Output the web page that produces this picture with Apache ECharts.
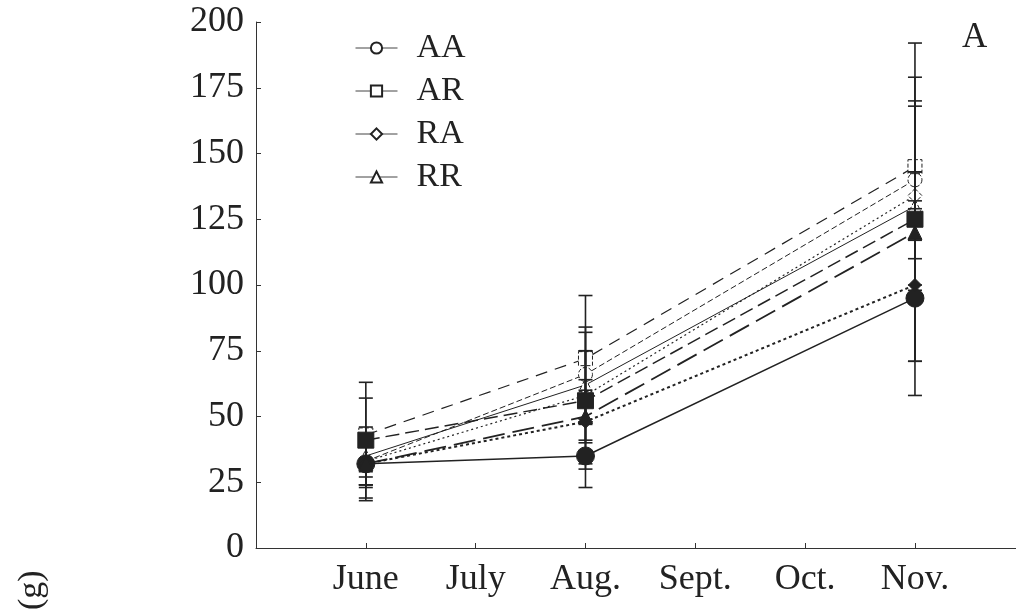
<!DOCTYPE html>
<html>
<head>
<meta charset="utf-8">
<script src="https://cdn.jsdelivr.net/npm/echarts@6/dist/echarts.min.js"></script>
<style>
  html, body { margin: 0; padding: 0; background: #fff; }
  #chart { width: 1016px; height: 611px; }
</style>
</head>
<body>
<div id="chart"></div>
<script>
// month tick labels, sampling months sit at positions 1, 3 and 6
const months = ['June', 'July', 'Aug.', 'Sept.', 'Oct.', 'Nov.']
const sampleX = [1, 3, 6]
const yTicks = [0, 25, 50, 75, 100, 125, 150, 175, 200]

// open symbols (shown in legend)
const aa = [33, 66, 140]
const aaErr = [10, 18, 30]
const ar = [43, 72, 145]
const arErr = [14, 24, 47]
const ra = [33, 58, 134]
const raErr = [9, 17, 34]
const rr = [35, 62, 130]
const rrErr = [8, 13, 13]

// filled symbols
const aaF = [32, 35, 95]
const aaFErr = [14, 12, 37]
const raF = [32, 48, 100]
const raFErr = [8, 16, 29]
const arF = [41, 56, 125]
const arFErr = [22, 26, 54]
const rrF = [32, 50, 120]
const rrFErr = [8, 10, 23]

const serif = 'Liberation Serif'
const ink = '#222'

function pts (vals) {
  return vals.map((v, i) => [sampleX[i], v])
}

function bars (vals, errs) {
  return vals.map((v, i) => [sampleX[i], v - errs[i], v + errs[i]])
}

function lineSeries (name, vals, symbol, size, filled, dash, width) {
  return {
    name: name,
    type: 'line',
    data: pts(vals),
    symbol: symbol,
    symbolSize: size,
    showAllSymbol: true,
    lineStyle: { color: ink, width: width, type: dash },
    itemStyle: filled
      ? { color: ink, borderColor: ink, borderWidth: 1 }
      : { color: '#fff', borderColor: ink, borderWidth: 1, borderType: 'dashed' },
    z: filled ? 5 : 2
  }
}

function errRender (params, api) {
  const lo = api.coord([api.value(0), api.value(1)])
  const hi = api.coord([api.value(0), api.value(2)])
  const x = lo[0]
  const w = 7
  const st = { stroke: ink, lineWidth: 1.6 }
  return {
    type: 'group',
    children: [
      { type: 'line', shape: { x1: x, y1: lo[1], x2: x, y2: hi[1] }, style: st },
      { type: 'line', shape: { x1: x - w, y1: lo[1], x2: x + w, y2: lo[1] }, style: st },
      { type: 'line', shape: { x1: x - w, y1: hi[1], x2: x + w, y2: hi[1] }, style: st }
    ]
  }
}

const errData = [].concat(
  bars(aa, aaErr), bars(ar, arErr), bars(ra, raErr), bars(rr, rrErr),
  bars(aaF, aaFErr), bars(raF, raFErr), bars(arF, arFErr), bars(rrF, rrFErr)
)

const chart = echarts.init(document.getElementById('chart'))
const option = {
  animation: false,
  backgroundColor: '#fff',
  grid: { left: 256, right: 0, top: 22, bottom: 63 },
  legend: {
    data: ['AA', 'AR', 'RA', 'RR'],
    orient: 'vertical',
    left: 350,
    top: 26,
    itemWidth: 42,
    itemHeight: 14,
    itemGap: 9,
    lineStyle: { type: 'solid', width: 1, color: '#444' },
    textStyle: { fontFamily: serif, fontSize: 34, color: ink, padding: [0, 0, 0, 14] }
  },
  xAxis: {
    type: 'value',
    min: 0,
    max: 6.92,
    interval: 1,
    splitLine: { show: false },
    axisLine: { lineStyle: { color: '#333', width: 1 } },
    axisTick: { inside: true, length: 5, lineStyle: { color: '#333' } },
    axisLabel: {
      fontFamily: serif,
      fontSize: 36,
      color: ink,
      margin: 14,
      showMaxLabel: false,
      formatter: v => months[v - 1] || ''
    }
  },
  yAxis: {
    type: 'value',
    min: yTicks[0],
    max: yTicks[yTicks.length - 1],
    interval: 25,
    splitLine: { show: false },
    axisLine: { show: true, lineStyle: { color: '#333', width: 1 } },
    axisTick: { show: true, inside: true, length: 5, lineStyle: { color: '#333' } },
    axisLabel: { fontFamily: serif, fontSize: 36, color: ink, margin: 12 }
  },
  graphic: [
    {
      type: 'text',
      left: 962,
      top: 20,
      style: { text: 'A', fontFamily: serif, fontSize: 35, fill: ink }
    },
    {
      type: 'text',
      x: 15,
      y: 610,
      rotation: Math.PI / 2,
      style: { text: '(g)', fontFamily: serif, fontSize: 34, fill: ink }
    }
  ],
  series: [
    lineSeries('AA', aa, 'circle', 14, false, [6, 3], 1),
    lineSeries('AR', ar, 'rect', 14, false, [12, 8], 1.2),
    lineSeries('RA', ra, 'diamond', 14, false, [2, 3], 1.2),
    lineSeries('RR', rr, 'triangle', 13, false, 'solid', 1),
    {
      type: 'custom',
      renderItem: errRender,
      data: errData,
      encode: { x: 0, y: [1, 2] },
      z: 3,
      silent: true
    },
    lineSeries('AA filled', aaF, 'circle', 18, true, 'solid', 1.5),
    lineSeries('RA filled', raF, 'diamond', 13, true, [3, 3], 2),
    lineSeries('AR filled', arF, 'rect', 16, true, [14, 6], 1.5),
    lineSeries('RR filled', rrF, 'triangle', 14, true, [22, 8], 1.8)
  ]
}
chart.setOption(option)
</script>
</body>
</html>
